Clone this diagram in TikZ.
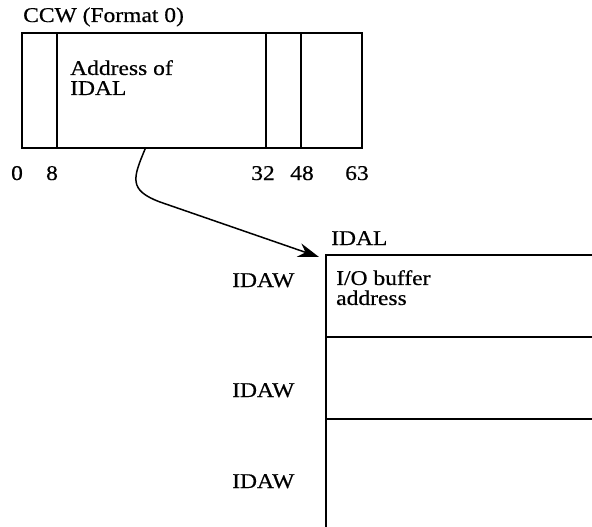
\documentclass[tikz,border=0pt]{standalone}
\usepackage{fontspec}
\setmainfont{Liberation Serif}[FakeStretch=1.12,FakeBold=0.5]
\usepackage{tikz}
\usetikzlibrary{positioning,arrows.meta}
\tikzset{
  field/.style={draw=black,line width=1.4pt,outer sep=0pt,inner sep=0pt,minimum height=115pt},
  slot/.style={draw=black,line width=1.4pt,outer sep=0pt,inner sep=0pt,minimum width=300pt,minimum height=82pt},
  txt/.style={font=\fontsize{21}{20}\selectfont,inner sep=0pt,align=left},
  bit/.style={txt,anchor=base},
  word/.style={txt,anchor=base west},
  ptr/.style={-{Stealth[length=21pt,width=14pt]},line width=1.5pt}
}
\begin{document}
\begin{tikzpicture}[x=1pt,y=-1pt]
  \clip (0,0) rectangle (592,527);
  % CCW, format 0
  \node[word] (title) at (23,22) {CCW (Format 0)};
  \node[field,minimum width=35pt,anchor=north west] (f0) at (22,33) {};
  \node[field,minimum width=209pt,right=0pt of f0] (f1) {};
  \node[field,minimum width=35pt,right=0pt of f1] (f2) {};
  \node[field,minimum width=61pt,right=0pt of f2] (f3) {};
  \node[txt,anchor=north west] (addr) at (70,60) {Address of\\IDAL};
  \node[bit] (b0) at (17,180) {0};
  \node[bit] (b8) at (52,180) {8};
  \node[bit] (b32) at (263,180) {32};
  \node[bit] (b48) at (302,180) {48};
  \node[bit] (b63) at (357,180) {63};
  % IDAL
  \node[word] (idal) at (331,245) {IDAL};
  \node[slot,anchor=north west] (w1) at (326,255) {};
  \node[slot,below=0pt of w1] (w2) {};
  \node[slot,minimum height=130pt,below=0pt of w2] (w3) {};
  \node[txt,anchor=north west] (buf) at (336,270) {I/O buffer\\address};
  \node[word] (idaw1) at (232,287) {IDAW};
  \node[word] (idaw2) at (232,397) {IDAW};
  \node[word] (idaw3) at (232,488) {IDAW};
  \draw[ptr] ([xshift=-16pt]f1.south) .. controls (133,178) and (128,190) .. (160,202)
    -- ([xshift=-7pt,yshift=-2pt]w1.north west);
\end{tikzpicture}
\end{document}
